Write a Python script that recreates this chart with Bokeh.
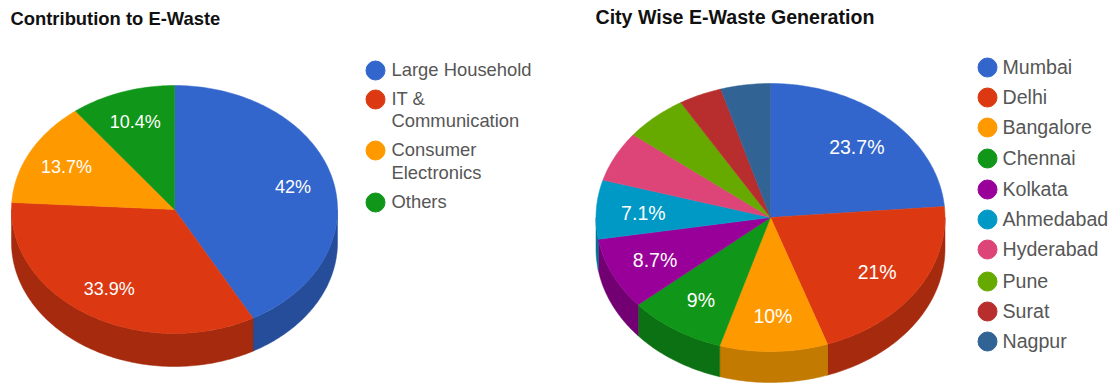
import math
from bokeh.core.properties import value
from bokeh.embed import file_html
from bokeh.layouts import row
from bokeh.plotting import figure
from bokeh.resources import INLINE

# Share of e-waste per source (percent)
source_names = ["Large Household", "IT & Communication", "Consumer Electronics", "Others"]
source_shares = [42.0, 33.9, 13.7, 10.4]
source_labels = ["42%", "33.9%", "13.7%", "10.4%"]
source_colors = ["#3366cc", "#dc3912", "#ff9900", "#109618"]
source_shades = ["#264d99", "#a52a0e", "#c27a00", "#0c7112"]

# Share of e-waste per city (percent)
city_names = ["Mumbai", "Delhi", "Bangalore", "Chennai", "Kolkata",
              "Ahmedabad", "Hyderabad", "Pune", "Surat", "Nagpur"]
city_shares = [23.7, 21.0, 10.0, 9.0, 8.7, 7.1, 6.1, 5.8, 4.0, 4.6]
city_labels = ["23.7%", "21%", "10%", "9%", "8.7%", "7.1%", "", "", "", ""]
city_colors = ["#3366cc", "#dc3912", "#ff9900", "#109618", "#990099",
               "#0099c6", "#dd4477", "#66aa00", "#b82e2e", "#316395"]
city_shades = ["#264d99", "#a52a0e", "#c27a00", "#0c7112", "#730073",
               "#007394", "#a63359", "#4c8000", "#8a2222", "#254a70"]

FONT = "Liberation Sans"
TITLE_COLOR = "#111111"
LEGEND_COLOR = "#565656"


def arc(cx, cy, rx, ry, start, stop, drop=0.0):
    steps = max(2, int(abs(stop - start) / 1.0) + 1)
    xs, ys = [], []
    for i in range(steps + 1):
        t = math.radians(start + (stop - start) * i / steps)
        xs.append(cx + rx * math.sin(t))
        ys.append(cy - ry * math.cos(t) + drop)
    return xs, ys


def draw_pie(p, shares, labels, colors, shades, cx, cy, rx, ry, depth, label_size, reach):
    total = sum(shares)
    bounds = [0.0]
    for s in shares:
        bounds.append(bounds[-1] + s / total * 360.0)

    # Rim: only the part of each slice facing the viewer (90 to 270 degrees)
    for i, shade in enumerate(shades):
        lo, hi = max(bounds[i], 90.0), min(bounds[i + 1], 270.0)
        if hi > lo:
            xt, yt = arc(cx, cy, rx, ry, lo, hi)
            xb, yb = arc(cx, cy, rx, ry, hi, lo, depth)
            p.patch(xt + xb, yt + yb, fill_color=shade, line_color=shade, line_width=0.5)

    # Top face
    for i, color in enumerate(colors):
        xa, ya = arc(cx, cy, rx, ry, bounds[i], bounds[i + 1])
        p.patch([cx] + xa, [cy] + ya, fill_color=color, line_color=color, line_width=0.5)

    # Percentage labels at the middle of each slice
    for i, text in enumerate(labels):
        if not text:
            continue
        mid = math.radians((bounds[i] + bounds[i + 1]) / 2)
        p.text([cx + reach * rx * math.sin(mid)], [cy - reach * ry * math.cos(mid) + 1], text=[text],
               text_color="#ffffff", text_font=value(FONT), text_font_size=label_size,
               text_align="center", text_baseline="middle")


def draw_legend(p, rows, colors, dot_x, text_x, radius, size):
    for color, lines in zip(colors, rows):
        p.scatter([dot_x], [lines[0][1]], marker="circle", size=radius * 2,
                  fill_color=color, line_color=color)
        for text, y in lines:
            p.text([text_x], [y - 1], text=[text], text_color=LEGEND_COLOR, text_font=value(FONT),
                   text_font_size=size, text_align="left", text_baseline="middle")


def panel(x0, x1):
    p = figure(width=x1 - x0, height=383, x_range=(x0, x1), y_range=(383, 0),
               output_backend="svg", toolbar_location=None, min_border=0,
               outline_line_color=None, background_fill_color="#ffffff",
               border_fill_color="#ffffff")
    p.axis.visible = False
    p.grid.visible = False
    return p


def heading(p, x, y, text, size):
    p.text([x], [y], text=[text], text_color=TITLE_COLOR, text_font=value(FONT),
           text_font_style="bold", text_font_size=size, text_align="left",
           text_baseline="middle")


left = panel(0, 555)
heading(left, 10, 18, "Contribution to E-Waste", "18.4px")
draw_pie(left, source_shares, source_labels, source_colors, source_shades,
         174, 209, 163, 124, 33, "18px", 0.75)
source_rows = [
    [(source_names[0], 70)],
    [("IT &", 99), ("Communication", 121)],
    [("Consumer", 150), ("Electronics", 173)],
    [(source_names[3], 202)],
]
draw_legend(left, source_rows, source_colors, 375, 391, 9.5, "18.4px")

right = panel(555, 1110)
heading(right, 595, 16, "City Wise E-Waste Generation", "19.6px")
draw_pie(right, city_shares, city_labels, city_colors, city_shades,
         770, 217, 174.5, 134, 31, "19.5px", 0.73)
city_ys = [67, 97, 127, 158, 189, 219, 249, 281, 311, 341]
city_rows = [[(name, y)] for name, y in zip(city_names, city_ys)]
draw_legend(right, city_rows, city_colors, 987, 1002, 9.5, "19.6px")

page = row(left, right, spacing=0)
open("out.html", "w").write(file_html(page, INLINE))
